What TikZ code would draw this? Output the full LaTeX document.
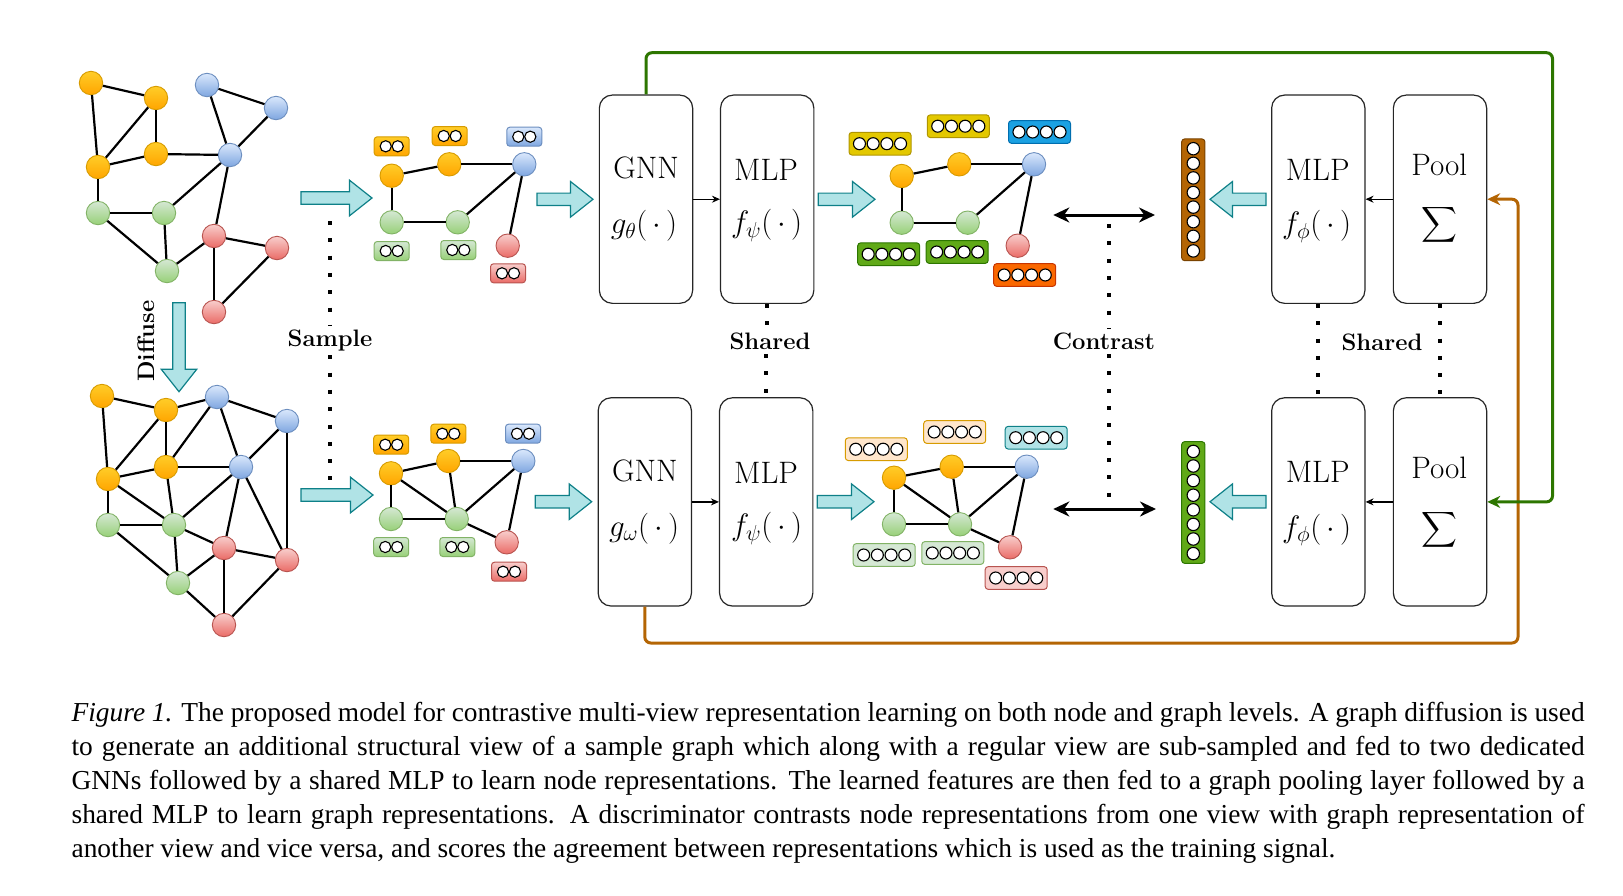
\RequirePackage{fix-cm}
\documentclass[tikz,border=0pt]{standalone}
\usepackage{exscale}
\usepackage{fontspec}
\newfontfamily\capfont{Liberation Serif}
\usetikzlibrary{arrows.meta}
\definecolor{oTop}{HTML}{FFCD28}\definecolor{oBot}{HTML}{FFA500}\definecolor{oS}{HTML}{D79B00}
\definecolor{bTop}{HTML}{DAE8FC}\definecolor{bBot}{HTML}{7EA6E0}\definecolor{bS}{HTML}{6C8EBF}
\definecolor{gTop}{HTML}{D5E8D4}\definecolor{gBot}{HTML}{97D077}\definecolor{gS}{HTML}{82B366}
\definecolor{rTop}{HTML}{F8CECC}\definecolor{rBot}{HTML}{EA6B66}\definecolor{rS}{HTML}{B85450}
\definecolor{yelF}{HTML}{E3C800}\definecolor{yelS}{HTML}{B09500}
\definecolor{bluF}{HTML}{1BA1E2}\definecolor{bluS}{HTML}{006EAF}
\definecolor{grnF}{HTML}{60A917}\definecolor{grnS}{HTML}{2D7600}
\definecolor{ornF}{HTML}{FA6800}\definecolor{ornS}{HTML}{C73500}
\definecolor{lorF}{HTML}{FFE6CC}\definecolor{lorS}{HTML}{D79B00}
\definecolor{cyaF}{HTML}{B0E3E6}\definecolor{cyaS}{HTML}{0E8088}
\definecolor{lgrF}{HTML}{D5E8D4}\definecolor{lgrS}{HTML}{82B366}
\definecolor{lreF}{HTML}{F8CECC}\definecolor{lreS}{HTML}{B85450}
\definecolor{brwF}{HTML}{B46504}\definecolor{brwS}{HTML}{7A4300}
\definecolor{lineG}{HTML}{2D7600}\definecolor{lineO}{HTML}{B46504}

\tikzset{
 gn/.style={circle, line width=0.9pt, minimum size=23.4pt, inner sep=0pt},
 gO/.style={gn, draw=oS, top color=oTop, bottom color=oBot},
 gB/.style={gn, draw=bS, top color=bTop, bottom color=bBot},
 gG/.style={gn, draw=gS, top color=gTop, bottom color=gBot},
 gR/.style={gn, draw=rS, top color=rTop, bottom color=rBot},
 gedge/.style={line width=2.2pt, black},
 fbox/.style={rectangle, rounded corners=3pt, line width=1pt, inner sep=0pt},
 fO/.style={draw=oS, top color=oTop, bottom color=oBot},
 fB/.style={draw=bS, top color=bTop, bottom color=bBot},
 fG/.style={draw=gS, top color=gTop, bottom color=gBot},
 fR/.style={draw=rS, top color=rTop, bottom color=rBot},
 cell/.style={draw=black, fill=white, line width=1.1pt},
 blk/.style={fill=cyaF, draw=cyaS, line width=1.2pt},
 procbox/.style={draw=black!85, line width=1.2pt, rounded corners=13pt, minimum width=93.3pt, minimum height=208.3pt, fill=white, inner sep=0pt},
 lbl/.style={font=\fontsize{31}{36}\selectfont, inner sep=0pt},
 sumlbl/.style={font=\fontsize{28}{32}\selectfont, inner sep=0pt},
 blbl/.style={font=\fontsize{23.8}{28}\selectfont\bfseries, inner sep=4pt},
 dotl/.style={line width=4pt, dash pattern=on 4pt off 13.3pt},
 thinarr/.style={line width=1.2pt, -{Stealth[length=8pt,width=7pt]}},
 dbl/.style={line width=3pt, {Stealth[length=16pt,width=15pt]}-{Stealth[length=16pt,width=15pt]}},
 fbline/.style={line width=3pt, rounded corners=6pt, -{Stealth[length=13pt,width=12pt]}},
}
\newcommand{\twobox}[4]{%
 \node[fbox,#4,minimum width=35pt,minimum height=19pt] (#1) at (#2,#3) {};
 \draw[cell] ({#2-6},#3) circle (5.6pt);
 \draw[cell] ({#2+6},#3) circle (5.6pt);}
\newcommand{\fourbox}[4]{%
 \node[fbox,#4,minimum width=62pt,minimum height=22.7pt] (#1) at (#2,#3) {};
 \foreach \k in {-1.5,-0.5,0.5,1.5} \draw[cell] ({#2+\k*13.7},#3) circle (6pt);}
\newcommand{\eightvec}[4]{%
 \node[fbox,#4,minimum width=23.3pt,minimum height=121.7pt] (#1) at (#2,#3) {};
 \foreach \k in {-3.5,-2.5,...,3.5} \draw[cell] (#2,{#3+\k*14.6}) circle (6.2pt);}
\newcommand{\blockarrow}[4]{%
 \draw[blk, shift={(#1,#2)}, rotate=#4] (0,6.2) -- ({#3-22.5},6.2) -- ({#3-22.5},17.8) -- (#3,0) -- ({#3-22.5},-17.8) -- ({#3-22.5},-6.2) -- (0,-6.2) -- cycle;}

\begin{document}
\begin{tikzpicture}[x=1pt,y=-1pt]
\useasboundingbox (0,0) rectangle (1623,895);

% ---------- original graph ----------
\node[gO] (a1) at (91,83) {};
\node[gO] (a2) at (156,98) {};
\node[gO] (a3) at (98,167) {};
\node[gO] (a4) at (156,154) {};
\node[gB] (a5) at (207,85) {};
\node[gB] (a6) at (276,108) {};
\node[gB] (a7) at (230,155) {};
\node[gG] (a8) at (98,213) {};
\node[gG] (a9) at (164,213) {};
\node[gG] (a10) at (167,271) {};
\node[gR] (a11) at (214,236) {};
\node[gR] (a12) at (277,248) {};
\node[gR] (a13) at (214,312) {};
\foreach \u/\v in {a1/a2,a1/a3,a2/a3,a2/a4,a3/a4,a4/a7,a5/a7,a5/a6,a6/a7,a3/a8,a8/a9,a8/a10,a9/a10,a9/a7,a7/a11,a10/a11,a11/a12,a11/a13,a12/a13}
  \draw[gedge] (\u) -- (\v);

% ---------- diffused graph ----------
\node[gO] (b1) at (102,396) {};
\node[gO] (b2) at (166,410) {};
\node[gO] (b3) at (108,479) {};
\node[gO] (b4) at (166,467) {};
\node[gB] (b5) at (217,397) {};
\node[gB] (b6) at (287,421) {};
\node[gB] (b7) at (241,467) {};
\node[gG] (b8) at (108,525) {};
\node[gG] (b9) at (174,525) {};
\node[gG] (b10) at (178,583) {};
\node[gR] (b11) at (224,548) {};
\node[gR] (b12) at (287,560) {};
\node[gR] (b13) at (224,625) {};
\foreach \u/\v in {b1/b2,b1/b3,b2/b3,b2/b4,b2/b5,b3/b4,b4/b5,b4/b7,b5/b6,b5/b7,b6/b7,b6/b12,b3/b8,b3/b9,b4/b9,b7/b9,b8/b9,b8/b10,b9/b10,b9/b11,b7/b11,b7/b12,b10/b11,b11/b12,b11/b13,b12/b13,b10/b13}
  \draw[gedge] (\u) -- (\v);

% diffuse arrow
\blockarrow{179}{302.7}{89}{-90}
\node[blbl, rotate=90] (diffuse) at (146.5,341) {Diffuse};

% ---------- sampled graphs ----------
\node[gO] (s1) at (391.7,175.7) {};
\node[gO] (s2) at (449.3,164.3) {};
\node[gB] (s3) at (524.3,164.3) {};
\node[gG] (s4) at (391.7,222.3) {};
\node[gG] (s5) at (457.7,222.3) {};
\node[gR] (s6) at (507.7,245.7) {};
\foreach \u/\v in {s1/s2,s2/s3,s1/s4,s4/s5,s5/s3,s3/s6} \draw[gedge] (\u) -- (\v);
\twobox{sb1}{391.7}{146.3}{fO}
\twobox{sb2}{449.7}{136}{fO}
\twobox{sb3}{524.3}{136.7}{fB}
\twobox{sb4}{391.7}{251}{fG}
\twobox{sb5}{458.3}{250}{fG}
\twobox{sb6}{508}{273.3}{fR}

\node[gO] (t1) at (391,473.3) {};
\node[gO] (t2) at (448.3,461) {};
\node[gB] (t3) at (523.3,461) {};
\node[gG] (t4) at (391,519) {};
\node[gG] (t5) at (456.7,519) {};
\node[gR] (t6) at (506.7,542.3) {};
\foreach \u/\v in {t1/t2,t2/t3,t1/t4,t4/t5,t1/t5,t2/t5,t5/t3,t5/t6,t3/t6} \draw[gedge] (\u) -- (\v);
\twobox{tb1}{391.2}{444.7}{fO}
\twobox{tb2}{448.3}{433.7}{fO}
\twobox{tb3}{523}{433.7}{fB}
\twobox{tb4}{391.2}{547}{fG}
\twobox{tb5}{457.3}{547}{fG}
\twobox{tb6}{509}{571.7}{fR}

% sample arrows and label
\blockarrow{301}{198}{71}{0}
\blockarrow{537}{199.3}{56}{0}
\blockarrow{301}{495}{72}{0}
\blockarrow{535.3}{501.7}{56.4}{0}
\coordinate (smpT) at (330,221);
\coordinate (smpB) at (330,486);
\node[blbl] (sample) at (330,340.5) {Sample};
\draw[dotl] (smpT) -- (smpT |- sample.north);
\draw[dotl] (smpT |- sample.south) -- (smpB);

% ---------- GNN / MLP boxes ----------
\node[procbox] (gnn1) at (646,199.2) {};
\node[procbox] (mlp1) at (767.2,199.2) {};
\node[procbox] (gnn2) at (644.8,501.9) {};
\node[procbox] (mlp2) at (766.2,501.9) {};
\node[lbl] (gnn1t) at (646,168.3) {GNN};
\node[lbl] (gnn1f) at (644,225.7) {$g_\theta(\,\cdot\,)$};
\node[lbl] (mlp1t) at (766,170) {MLP};
\node[lbl] (mlp1f) at (766.7,225.7) {$f_\psi(\,\cdot\,)$};
\node[lbl] (gnn2t) at (644.8,471) {GNN};
\node[lbl] (gnn2f) at (644,528.4) {$g_\omega(\,\cdot\,)$};
\node[lbl] (mlp2t) at (766,472.7) {MLP};
\node[lbl] (mlp2f) at (766.7,528.4) {$f_\psi(\,\cdot\,)$};
\draw[thinarr] (gnn1.east) -- (mlp1.west);
\draw[thinarr] (gnn2.east) -- (mlp2.west);
\node[blbl] (sharedL) at (770,341.5) {Shared};
\draw[dotl] (mlp1.south) -- (mlp1.south |- sharedL.north);
\draw[dotl] (mlp2.north |- sharedL.south) -- (mlp2.north);

% ---------- embedded graphs ----------
\blockarrow{818.3}{199.3}{56.7}{0}
\blockarrow{817.3}{501.7}{56.7}{0}
\node[gO] (e1) at (901.7,176) {};
\node[gO] (e2) at (959.3,164.3) {};
\node[gB] (e3) at (1034,164.3) {};
\node[gG] (e4) at (901.7,222.7) {};
\node[gG] (e5) at (967.7,222.7) {};
\node[gR] (e6) at (1017.7,245.7) {};
\foreach \u/\v in {e1/e2,e2/e3,e1/e4,e4/e5,e5/e3,e3/e6} \draw[gedge] (\u) -- (\v);
\fourbox{eb1}{880}{143.7}{draw=yelS,fill=yelF}
\fourbox{eb2}{958.3}{126.2}{draw=yelS,fill=yelF}
\fourbox{eb3}{1039.5}{132}{draw=bluS,fill=bluF}
\fourbox{eb4}{888.7}{254.2}{draw=grnS,fill=grnF}
\fourbox{eb5}{957.2}{252}{draw=grnS,fill=grnF}
\fourbox{eb6}{1024.7}{275}{draw=ornS,fill=ornF}

\node[gO] (f1) at (894,477.7) {};
\node[gO] (f2) at (951.7,466.7) {};
\node[gB] (f3) at (1026.7,466.7) {};
\node[gG] (f4) at (894,524.3) {};
\node[gG] (f5) at (960,524.3) {};
\node[gR] (f6) at (1010,547.3) {};
\foreach \u/\v in {f1/f2,f2/f3,f1/f4,f4/f5,f1/f5,f2/f5,f5/f3,f5/f6,f3/f6} \draw[gedge] (\u) -- (\v);
\fourbox{fb1}{876.3}{449.2}{draw=lorS,fill=lorF}
\fourbox{fb2}{954.7}{432}{draw=lorS,fill=lorF}
\fourbox{fb3}{1036.2}{437.7}{draw=cyaS,fill=cyaF}
\fourbox{fb4}{884.2}{555}{draw=lgrS,fill=lgrF}
\fourbox{fb5}{952.8}{553}{draw=lgrS,fill=lgrF}
\fourbox{fb6}{1016.2}{578}{draw=lreS,fill=lreF}

% ---------- contrast ----------
\coordinate (c1l) at (1053.3,215);
\coordinate (c1r) at (1155,215);
\coordinate (c2l) at (1053.3,509);
\coordinate (c2r) at (1156,509);
\draw[dbl] (c1l) -- (c1r);
\draw[dbl] (c2l) -- (c2r);
\coordinate (cdT) at (1109,224);
\coordinate (cdB) at (1109,504);
\node[blbl] (contrast) at (1104,341.5) {Contrast};
\draw[dotl] (cdT) -- (cdT |- contrast.north);
\draw[dotl] (cdT |- contrast.south) -- (cdB);

% ---------- graph-level side ----------
\eightvec{vt}{1193.3}{199.8}{draw=brwS,fill=brwF}
\eightvec{vb}{1193.3}{502.5}{draw=grnS,fill=grnF}
\blockarrow{1266}{199.3}{56}{180}
\blockarrow{1266}{501.7}{56}{180}
\node[procbox] (mlp3) at (1318.3,199.2) {};
\node[procbox] (pool1) at (1440,199.2) {};
\node[procbox] (mlp4) at (1318.3,501.9) {};
\node[procbox] (pool2) at (1440,501.9) {};
\node[lbl] (mlp3t) at (1317.7,170) {MLP};
\node[lbl] (mlp3f) at (1316.7,226.7) {$f_\phi(\,\cdot\,)$};
\node[lbl] (pool1t) at (1439.3,165) {Pool};
\node[sumlbl] (pool1s) at (1439.3,225) {$\displaystyle\sum$};
\node[lbl] (mlp4t) at (1317.7,472.3) {MLP};
\node[lbl] (mlp4f) at (1316.7,530) {$f_\phi(\,\cdot\,)$};
\node[lbl] (pool2t) at (1439.3,468.3) {Pool};
\node[sumlbl] (pool2s) at (1439.3,530) {$\displaystyle\sum$};
\draw[thinarr] (pool1.west) -- (mlp3.east);
\draw[thinarr] (pool2.west) -- (mlp4.east);
\node[blbl] (sharedR) at (1382,342.3) {Shared};
\draw[dotl] (mlp3.south) -- (mlp4.north);
\draw[dotl] (pool1.south) -- (pool2.north);

% ---------- feedback lines ----------
\draw[fbline, lineO] (gnn2.south) -- (644.8,643) -- (1518,643) -- (1518,199.2) -- (pool1.east);
\draw[fbline, lineG] (gnn1.north) -- (646,52.7) -- (1552.5,52.7) -- (1552.5,501.9) -- (pool2.east);

% ---------- caption ----------
\node[anchor=base west, inner sep=0pt] (caption) at (71.4,721.7) {\parbox[t]{1513pt}{\capfont\fontsize{27.4}{33.9}\selectfont
\makebox[\linewidth][s]{\textit{Figure 1.} The proposed model for contrastive multi-view representation learning on both node and graph levels. A graph diffusion is used}\\
\makebox[\linewidth][s]{to generate an additional structural view of a sample graph which along with a regular view are sub-sampled and fed to two dedicated}\\
\makebox[\linewidth][s]{GNNs followed by a shared MLP to learn node representations. The learned features are then fed to a graph pooling layer followed by a}\\
\makebox[\linewidth][s]{shared MLP to learn graph representations. A discriminator contrasts node representations from one view with graph representation of}\\
another view and vice versa, and scores the agreement between representations which is used as the training signal.}};
\end{tikzpicture}
\end{document}
